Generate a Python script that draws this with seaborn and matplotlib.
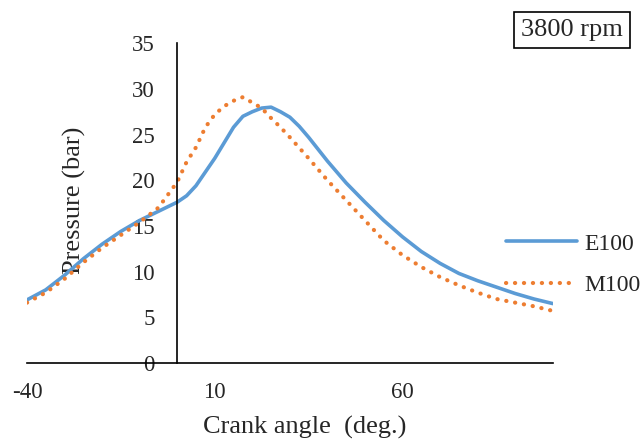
import numpy as np
import pandas as pd
import matplotlib
matplotlib.use("Agg")
import matplotlib.pyplot as plt
import seaborn as sns

# -----------------------------
# Data
# -----------------------------
E100_ANGLE = [-40, -35, -30, -25, -20, -15, -10, -5, 0, 2.5, 5, 7.5, 10, 12.5,
              15, 17.5, 20, 22.5, 25, 27.5, 30, 32.5, 35, 37.5, 40, 45, 50,
              55, 60, 65, 70, 75, 80, 85, 90, 95, 100]
E100_P = [6.9, 8.0, 9.6, 11.4, 13.0, 14.4, 15.6, 16.6, 17.6, 18.3, 19.4, 20.9,
          22.4, 24.1, 25.8, 27.0, 27.5, 27.9, 28.0, 27.5, 26.9, 25.9, 24.7,
          23.4, 22.1, 19.7, 17.6, 15.6, 13.8, 12.2, 10.9, 9.8, 9.0, 8.3,
          7.6, 7.0, 6.5]

M100_ANGLE = [-40, -35, -30, -25, -20, -15, -10, -5, 0, 2.5, 5, 7.5, 10, 12.5,
              15, 17.5, 20, 22.5, 25, 27.5, 30, 35, 40, 45, 50, 55, 60, 65,
              70, 75, 80, 85, 90, 95, 100]
M100_P = [6.6, 7.7, 9.2, 11.0, 12.6, 14.0, 15.4, 17.0, 19.8, 22.0, 23.6, 25.8,
          27.2, 28.1, 28.7, 29.1, 28.5, 27.9, 26.8, 25.8, 24.7, 22.4, 20.0,
          17.8, 15.6, 13.4, 11.8, 10.5, 9.4, 8.5, 7.7, 7.0, 6.6, 6.2, 5.7]

X_TICKS = [-40, 10, 60]
Y_TICKS = [0, 5, 10, 15, 20, 25, 30, 35]

BLUE = "#5B9BD5"
ORANGE = "#ED7D31"

# -----------------------------
# Plot
# -----------------------------
sns.set_style("white")
plt.rcParams["font.family"] = ["Liberation Serif", "DejaVu Serif"]
plt.rcParams["axes.unicode_minus"] = False

fig = plt.figure(figsize=(6.42, 4.41), dpi=100)
ax = fig.add_axes([0.042, 0.177, 0.819, 0.725])

sns.lineplot(x=E100_ANGLE, y=E100_P, ax=ax, color=BLUE, lw=2.6, label="E100")
sns.lineplot(x=M100_ANGLE, y=M100_P, ax=ax, color=ORANGE, lw=3.0,
             linestyle=(0, (0.05, 2.1)), dash_capstyle="round", label="M100")

ax.set_xlim(-40, 100)
ax.set_ylim(0, 35)
ax.set_xticks(X_TICKS)
ax.set_yticks(Y_TICKS)
ax.tick_params(length=0, labelsize=16.5)
ax.tick_params(axis="x", pad=14)
ax.tick_params(axis="y", pad=16)

for side in ["top", "right"]:
    ax.spines[side].set_visible(False)
ax.spines["left"].set_position(("data", 0))
ax.spines["left"].set_color("black")
ax.spines["left"].set_linewidth(1.2)
ax.spines["bottom"].set_color("black")
ax.spines["bottom"].set_linewidth(1.2)

ax.set_xlabel("Crank angle  (deg.)", fontsize=19, labelpad=10)
ax.xaxis.set_label_coords(0.529, -0.165)
ax.set_ylabel("Pressure (bar)", fontsize=19)
ax.yaxis.set_label_coords(0.112, 0.51)

leg = ax.legend(loc="center left", bbox_to_anchor=(0.894, 0.307), frameon=False,
                fontsize=17, handlelength=3.0, handletextpad=0.3,
                labelspacing=0.85, borderaxespad=0)

fig.text(0.891, 0.932, "3800 rpm", fontsize=19, ha="center", va="center",
         bbox=dict(boxstyle="square,pad=0.25", fc="white", ec="black", lw=1.2))

plt.savefig("out.png", dpi=100)
